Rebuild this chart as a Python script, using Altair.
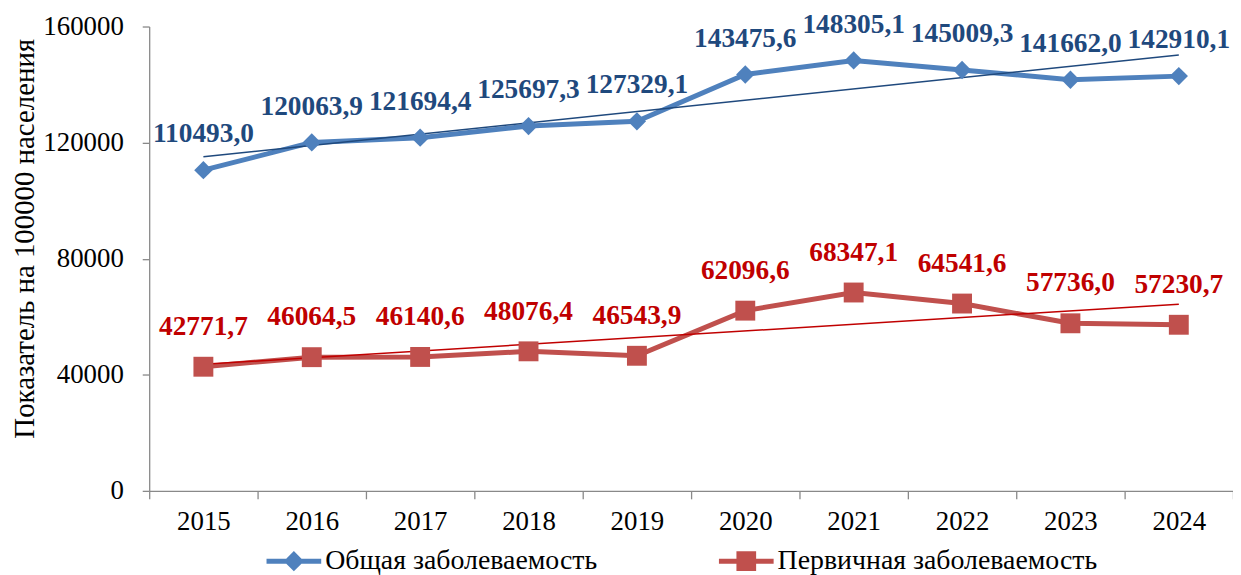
import altair as alt
import pandas as pd

years = [2015, 2016, 2017, 2018, 2019, 2020, 2021, 2022, 2023, 2024]
total = [110493.0, 120063.9, 121694.4, 125697.3, 127329.1, 143475.6, 148305.1, 145009.3, 141662.0, 142910.1]
primary = [42771.7, 46064.5, 46140.6, 48076.4, 46543.9, 62096.6, 68347.1, 64541.6, 57736.0, 57230.7]
series_names = ["Общая заболеваемость", "Первичная заболеваемость"]
y_ticks = [0, 40000, 80000, 120000, 160000]

FONT = "Liberation Serif"

rows = []
for name, vals in zip(series_names, [total, primary]):
    for y, v in zip(years, vals):
        rows.append({"year": y, "series": name, "value": v,
                     "label": f"{v:.1f}".replace(".", ",")})
df = pd.DataFrame(rows)

x_enc = alt.X("year:O", scale=alt.Scale(type="band", paddingInner=0, paddingOuter=0),
              axis=alt.Axis(title=None, tickBand="extent", labelAngle=0))
y_enc = alt.Y("value:Q", scale=alt.Scale(domain=[0, 160000], nice=False),
              axis=alt.Axis(values=y_ticks, format="d", title="Показатель на 100000 населения",
                            grid=False, titleX=-125, titleY=213, titleBaseline="middle",
                            titleAlign="center", titleAngle=270))

base = alt.Chart(df).encode(x=x_enc, y=y_enc)

styles = {
    series_names[0]: dict(line="#4F81BD", trend="#1F497D", text="#1F497D", shape="diamond", size=340, dy=-36),
    series_names[1]: dict(line="#C0504D", trend="#C00000", text="#C00000", shape="square", size=400, dy=-40),
}

layers = []
for name in series_names:
    st = styles[name]
    sub = base.transform_filter(alt.datum.series == name)
    layers.append(sub.mark_line(color=st["line"], strokeWidth=5))
    layers.append(
        alt.Chart(df).transform_filter(alt.datum.series == name)
        .transform_regression("year", "value")
        .mark_line(color=st["trend"], strokeWidth=1.5)
        .encode(x=x_enc, y=y_enc)
    )
    layers.append(sub.mark_point(shape=st["shape"], size=st["size"], filled=True,
                                 color=st["line"], opacity=1))
    layers.append(sub.mark_text(dy=st["dy"], font=FONT, fontSize=27.5, fontWeight="bold",
                                color=st["text"]).encode(text="label:N"))

diamond_path = "M-1,-0.09H1V0.09H-1Z M0,-0.37L0.37,0L0,0.37L-0.37,0Z"
square_path = "M-1,-0.09H1V0.09H-1Z M-0.36,-0.36H0.36V0.36H-0.36Z"

leg = alt.Legend(title=None, orient="none", direction="horizontal",
                 legendX=118, legendY=510, padding=0,
                 symbolSize=3025, symbolOpacity=1, symbolStrokeWidth=0,
                 labelFont=FONT, labelFontSize=28, labelColor="#000000",
                 labelOffset=4, columnPadding=122, labelLimit=600)

legend_layer = base.mark_point(filled=True, opacity=0).encode(
    color=alt.Color("series:N", scale=alt.Scale(domain=series_names, range=["#4F81BD", "#C0504D"]),
                    legend=leg),
    shape=alt.Shape("series:N", scale=alt.Scale(domain=series_names, range=[diamond_path, square_path]),
                    legend=leg),
)

chart = alt.layer(legend_layer, *layers).properties(
    width=1090, height=467,
    autosize=alt.AutoSizeParams(type="none"),
    padding={"left": 142, "top": 17, "right": 0, "bottom": 83},
).configure_view(stroke=None).configure_axis(
    labelFont=FONT, labelFontSize=27, labelColor="#000000",
    titleFont=FONT, titleFontSize=29, titleFontWeight="normal", titleColor="#000000",
    domainColor="#898989", tickColor="#898989", domainWidth=1.3, tickWidth=1.3,
).configure_axisY(tickSize=7, labelPadding=19
).configure_axisX(tickSize=8, labelPadding=10)

chart.save("out.html", embed_options={"renderer": "svg", "actions": False})
